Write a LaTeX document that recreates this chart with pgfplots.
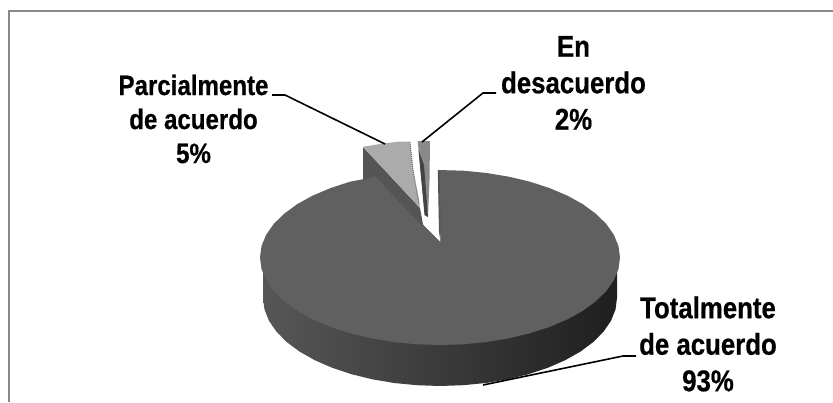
\documentclass[border=0pt]{standalone}
\usepackage{fontspec}
\setmainfont{Liberation Sans}[BoldFeatures={FakeBold=0.6}]
\usepackage{pgfplots}
\pgfplotsset{compat=1.18}
\definecolor{frame}{HTML}{888888}
\definecolor{maintop}{HTML}{606060}
\definecolor{lightslice}{HTML}{ABABAB}
\definecolor{darkside}{HTML}{555555}
\definecolor{midslice}{HTML}{8A8A8A}
\definecolor{coreslice}{HTML}{444444}
\tikzset{lbl/.style={inner sep=0pt, align=center, xscale=0.86, text=black}}

\begin{document}
\begin{tikzpicture}
\begin{axis}[
  scale only axis, width=833pt, height=402pt,
  xmin=0, xmax=833, ymin=0, ymax=402,
  y dir=reverse, hide axis, clip=true,
  every axis plot/.append style={no markers, forget plot},
]
% page background, sets the extent
\addplot[fill=white, draw=none] coordinates {(0,0) (833,0) (833,402) (0,402)} -- cycle;
% frame, only top and left are visible
\addplot[frame, line width=2pt] coordinates {(833,10.5) (9,10.5) (9,402)};

% side wall of the big slice
\addplot[left color=black!66, right color=black!88, draw=none] coordinates {
  (617,257) (617,298) (615.5,309.5) (611,320.8) (603.5,331.7) (593.3,342) (580.4,351.6)
  (565.2,360.2) (547.8,367.8) (528.5,374.2) (507.7,379.3) (485.8,383) (463.1,385.2) (440,386)
  (416.9,385.2) (394.2,383) (372.3,379.3) (351.5,374.2) (332.2,367.8) (314.8,360.2) (299.6,351.6)
  (286.7,342) (276.5,331.7) (269,320.8) (264.5,309.5) (263,298) (263,257)} -- cycle;

% top of the big slice, 93%
\addplot[fill=maintop, draw=none] coordinates {
  (440.5,242) (438,170) (463.5,170.7) (486.6,173) (508.9,176.7) (530,181.7) (549.6,188.1)
  (567.3,195.6) (582.8,204.2) (595.9,213.75) (606.3,224) (613.9,234.9) (618.5,246.1) (620,257.5)
  (618.5,268.9) (613.9,280.1) (606.3,291) (595.9,301.25) (582.8,310.8) (567.3,319.4) (549.6,326.9)
  (530,333.3) (508.9,338.3) (486.6,342) (463.5,344.3) (440,345) (416.5,344.3) (393.4,342)
  (371.1,338.3) (350,333.3) (330.4,326.9) (312.7,319.4) (297.2,310.8) (284.1,301.25) (273.7,291)
  (266.1,280.1) (261.5,268.9) (260,257.5) (261.5,246.1) (266.1,234.9) (273.7,224) (284.1,213.75)
  (297.2,204.2) (312.7,195.6) (330.4,188.1) (350,181.7) (375,177)} -- cycle;
% inner wall on the cut
\addplot[fill=darkside, draw=none] coordinates {(437.8,170) (440,171) (440.5,241) (439,232)} -- cycle;

% 5% slice, wall then top
\addplot[fill=darkside, draw=none] coordinates {
  (363,147) (363,180) (375,177) (423.5,227) (420,208)} -- cycle;
\addplot[fill=lightslice, draw=none] coordinates {
  (363,146.7) (380,144) (398,141.7) (410,141.7) (413,170) (419,200) (420,208)} -- cycle;
\addplot[black!60, densely dotted, line width=1pt] coordinates {(410,142) (413,170) (419,204)};

% 2% slice
\addplot[fill=midslice, draw=none] coordinates {
  (417.7,141) (430,141) (429.5,180) (428,217) (425,215)} -- cycle;
\addplot[fill=coreslice, draw=none] coordinates {
  (418.5,150) (424,165) (428,217) (424.5,215)} -- cycle;

% leader lines
\addplot[black, line width=1.6pt] coordinates {(272,95) (285,95) (385,144)};
\addplot[black, line width=1.6pt] coordinates {(496,93) (483,93) (422,142)};
\addplot[black, line width=1.6pt] coordinates {(483,385) (623,356) (636,356)};

% data labels
\node[lbl, font=\bfseries\fontsize{28}{34}\selectfont] at (axis cs:193.5,119)
  {Parcialmente\\de acuerdo\\5\%};
\node[lbl, font=\bfseries\fontsize{30}{36.5}\selectfont] at (axis cs:573.5,83)
  {En\\desacuerdo\\2\%};
\node[lbl, font=\bfseries\fontsize{30}{36.5}\selectfont] at (axis cs:708,344)
  {Totalmente\\de acuerdo\\93\%};
\end{axis}
\end{tikzpicture}
\end{document}
